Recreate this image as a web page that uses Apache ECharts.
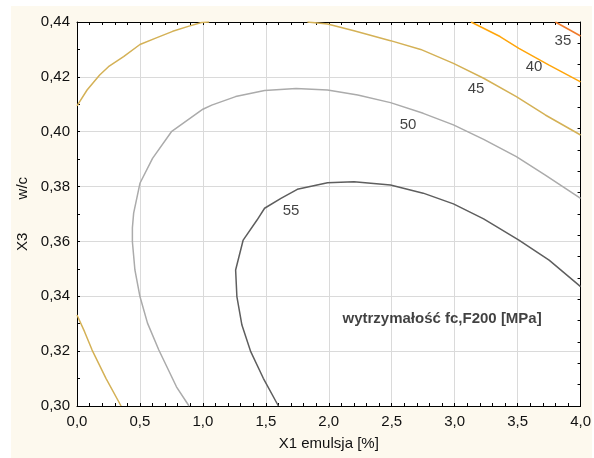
<!DOCTYPE html>
<html>
<head>
<meta charset="utf-8">
<script src="https://cdn.jsdelivr.net/npm/echarts@6/dist/echarts.min.js"></script>
<style>
  html, body { margin: 0; padding: 0; background: #ffffff; }
  #chart { width: 594px; height: 458px; }
</style>
</head>
<body>
<div id="chart"></div>
<script>
// Contour levels of compressive strength fc,F200 [MPa] vs. emulsion content X1 and w/c ratio X3
const levels = [35, 40, 45, 50, 55];
const levelColors = ['#f07a2a', '#ffa50a', '#d4b156', '#ababab', '#5e5e5e'];

// Iso-lines as [X1 %, X3 w/c] points
const contour35 = [[3.80, 0.4400], [4.00, 0.4349]];
const contour40 = [[3.13, 0.4400], [3.36, 0.4347], [3.51, 0.4304], [3.75, 0.4243], [4.00, 0.4182]];
const contour45Top = [
  [0.00, 0.4094], [0.08, 0.4152], [0.18, 0.4207], [0.25, 0.4237], [0.37, 0.4274],
  [0.50, 0.4318], [0.63, 0.4342], [0.76, 0.4366], [0.89, 0.4385], [0.99, 0.4398], [1.05, 0.4400]
];
const contour45Right = [
  [1.83, 0.4400], [1.99, 0.4393], [2.20, 0.4368], [2.49, 0.4332], [2.73, 0.4300],
  [2.99, 0.4249], [3.23, 0.4195], [3.49, 0.4128], [3.72, 0.4061], [4.00, 0.3988]
];
const contour45Bottom = [[0.00, 0.3332], [0.06, 0.3271], [0.12, 0.3204], [0.23, 0.3101], [0.35, 0.3000]];
const contour50 = [
  [0.89, 0.3000], [0.79, 0.3070], [0.65, 0.3204], [0.56, 0.3302], [0.50, 0.3399],
  [0.46, 0.3496], [0.44, 0.3599], [0.44, 0.3650], [0.45, 0.3703], [0.50, 0.3812],
  [0.60, 0.3903], [0.75, 0.4000], [1.00, 0.4082], [1.07, 0.4097], [1.26, 0.4128],
  [1.49, 0.4150], [1.74, 0.4158], [1.99, 0.4152], [2.23, 0.4134], [2.49, 0.4106],
  [2.75, 0.4067], [2.99, 0.4025], [3.23, 0.3972], [3.49, 0.3909], [3.72, 0.3842], [4.00, 0.3757]
];
const contour55 = [
  [1.60, 0.3000], [1.48, 0.3101], [1.38, 0.3198], [1.31, 0.3295], [1.27, 0.3399],
  [1.26, 0.3496], [1.32, 0.3605], [1.43, 0.3678], [1.49, 0.3721], [1.62, 0.3757],
  [1.75, 0.3790], [1.99, 0.3814], [2.20, 0.3818], [2.49, 0.3806], [2.75, 0.3776],
  [2.99, 0.3737], [3.23, 0.3682], [3.51, 0.3605], [3.75, 0.3532], [4.00, 0.3435]
];

// Where each level number is written
const levelLabelPos = [[3.86, 0.4330], [3.63, 0.4235], [3.17, 0.4155], [2.63, 0.4025], [1.70, 0.3710]];

const xTickLabels = ['0,0', '0,5', '1,0', '1,5', '2,0', '2,5', '3,0', '3,5', '4,0'];
const yTickLabels = ['0,30', '0,32', '0,34', '0,36', '0,38', '0,40', '0,42', '0,44'];

const chartTitle = 'wytrzymałość fc,F200 [MPa]';
const titlePos = [2.90, 0.3317];

const FONT = 'Liberation Sans, Arial, sans-serif';
const chart = echarts.init(document.getElementById('chart'), null, { renderer: 'canvas' });

function lineSeries(points, color) {
  return {
    type: 'line',
    data: points,
    showSymbol: false,
    symbol: 'none',
    clip: true,
    lineStyle: { color: color, width: 1.5 },
    silent: true,
    animation: false,
    z: 3
  };
}

const contourSets = [
  [contour35],
  [contour40],
  [contour45Top, contour45Right, contour45Bottom],
  [contour50],
  [contour55]
];

const series = [];
contourSets.forEach((set, i) => {
  set.forEach(points => series.push(lineSeries(points, levelColors[i])));
});

series.push({
  type: 'scatter',
  data: levelLabelPos.map((p, i) => ({ value: p, level: levels[i] })),
  symbolSize: 0,
  silent: true,
  animation: false,
  label: {
    show: true,
    position: 'inside',
    formatter: p => String(p.data.level),
    color: '#111',
    fontFamily: FONT,
    fontSize: 15
  },
  z: 5
});

series.push({
  type: 'scatter',
  data: [titlePos],
  symbolSize: 0,
  silent: true,
  animation: false,
  label: {
    show: true,
    position: 'inside',
    formatter: chartTitle,
    color: '#111',
    fontFamily: FONT,
    fontSize: 15,
    fontWeight: 'bold'
  },
  z: 5
});

const fmtX = v => xTickLabels[Math.round(v / 0.5)];
const fmtY = v => yTickLabels[Math.round((v - 0.30) / 0.02)];

chart.setOption({
  animation: false,
  backgroundColor: 'transparent',
  graphic: [{
    type: 'rect',
    shape: { x: 11, y: 6, width: 581, height: 452 },
    style: { fill: '#fdf9ee' },
    z: -10,
    silent: true
  }],
  grid: { left: 77, top: 22, right: 9, bottom: 52, containLabel: false, show: true, backgroundColor: '#ffffff', borderWidth: 0 },
  xAxis: [{
    type: 'value',
    min: 0, max: 4, interval: 0.5,
    position: 'bottom',
    name: 'X1 emulsja [%]',
    nameLocation: 'middle',
    nameGap: 30,
    nameTextStyle: { fontFamily: FONT, fontSize: 15, color: '#111' },
    axisLine: { show: true, onZero: false, lineStyle: { color: '#000', width: 1 } },
    axisTick: { show: true, inside: true, length: 3, lineStyle: { color: '#000' } },
    minorTick: { show: true, splitNumber: 5, length: 3, lineStyle: { color: '#000' } },
    axisLabel: { formatter: fmtX, fontFamily: FONT, fontSize: 15, color: '#111', margin: 8 },
    splitLine: { show: true, lineStyle: { color: '#dadada', width: 1 } }
  }, {
    type: 'value',
    min: 0, max: 4, interval: 0.5,
    position: 'top',
    axisLine: { show: true, onZero: false, lineStyle: { color: '#000', width: 1 } },
    axisTick: { show: true, inside: true, length: 3, lineStyle: { color: '#000' } },
    minorTick: { show: true, splitNumber: 5, length: 3, lineStyle: { color: '#000' } },
    axisLabel: { show: false },
    splitLine: { show: false }
  }],
  yAxis: [{
    type: 'value',
    min: 0.30, max: 0.44, interval: 0.02,
    position: 'left',
    name: 'X3        w/c',
    nameLocation: 'middle',
    nameGap: 45,
    nameTextStyle: { fontFamily: FONT, fontSize: 15, color: '#111' },
    axisLine: { show: true, onZero: false, lineStyle: { color: '#000', width: 1 } },
    axisTick: { show: true, inside: true, length: 3, lineStyle: { color: '#000' } },
    minorTick: { show: true, splitNumber: 2, length: 3, lineStyle: { color: '#000' } },
    axisLabel: { formatter: fmtY, fontFamily: FONT, fontSize: 15, color: '#111', margin: 7 },
    splitLine: { show: true, lineStyle: { color: '#dadada', width: 1 } }
  }, {
    type: 'value',
    min: 0, max: 18, interval: 1,
    position: 'right',
    axisLine: { show: true, onZero: false, lineStyle: { color: '#000', width: 1 } },
    axisTick: { show: true, inside: true, length: 3, lineStyle: { color: '#000' } },
    axisLabel: { show: false },
    splitLine: { show: false }
  }],
  series: series
});
</script>
</body>
</html>
